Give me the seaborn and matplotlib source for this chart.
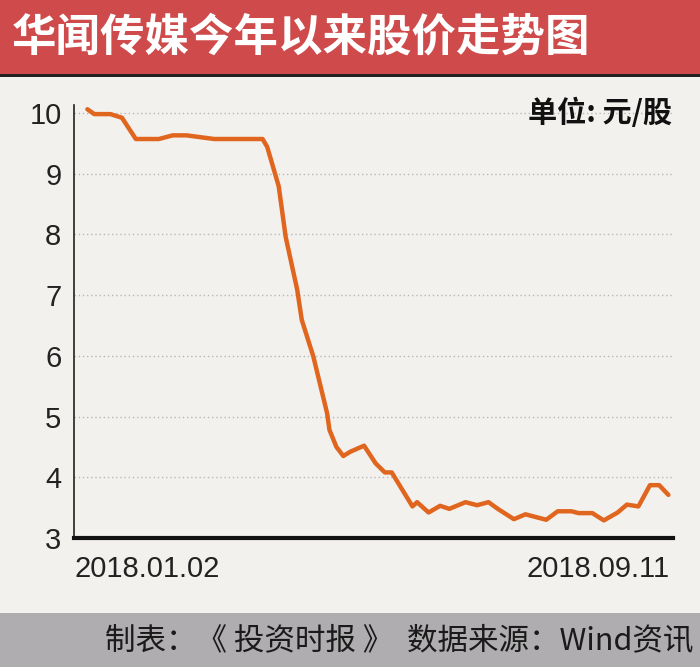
import pandas as pd
import matplotlib.pyplot as plt
import seaborn as sns
from matplotlib.patches import Rectangle

# 数据：华闻传媒 2018 年收盘价
dates = ["2018-01-02", "2018-01-05", "2018-01-12", "2018-01-17", "2018-01-23",
         "2018-02-02", "2018-02-08", "2018-02-14", "2018-02-26", "2018-03-19",
         "2018-03-21", "2018-03-26", "2018-03-29", "2018-04-03", "2018-04-05",
         "2018-04-10", "2018-04-16", "2018-04-17", "2018-04-20", "2018-04-23",
         "2018-04-26", "2018-05-02", "2018-05-07", "2018-05-11", "2018-05-14",
         "2018-05-23", "2018-05-25", "2018-05-30", "2018-06-04", "2018-06-08",
         "2018-06-15", "2018-06-20", "2018-06-25", "2018-06-29", "2018-07-06",
         "2018-07-11", "2018-07-20", "2018-07-25", "2018-07-31", "2018-08-03",
         "2018-08-09", "2018-08-14", "2018-08-20", "2018-08-24", "2018-08-29",
         "2018-09-03", "2018-09-07", "2018-09-11"]
prices = [10.06, 9.98, 9.98, 9.92, 9.57,
          9.57, 9.63, 9.63, 9.57, 9.57,
          9.44, 8.79, 7.96, 7.09, 6.59,
          5.99, 5.05, 4.78, 4.50, 4.35,
          4.42, 4.52, 4.23, 4.08, 4.08,
          3.52, 3.59, 3.42, 3.53, 3.48,
          3.59, 3.54, 3.59, 3.48, 3.31,
          3.39, 3.30, 3.44, 3.44, 3.41,
          3.41, 3.29, 3.42, 3.55, 3.52,
          3.87, 3.87, 3.71]
y_ticks = [3, 4, 5, 6, 7, 8, 9, 10]
x_labels = ["2018.01.02", "2018.09.11"]

df = pd.DataFrame({"date": pd.to_datetime(dates), "price": prices})

sns.set_style("white")
plt.rcParams["font.family"] = ["Noto Sans CJK SC", "DejaVu Sans"]
num_font = ["Liberation Sans", "DejaVu Sans"]

bg = "#f3f1ee"
fig = plt.figure(figsize=(7, 6.67), dpi=100, facecolor=bg)

# 标题栏
fig.add_artist(Rectangle((0, 1 - 74 / 667), 1, 74 / 667, transform=fig.transFigure,
                         facecolor="#cf4b4b", edgecolor="none"))
fig.add_artist(Rectangle((0, 1 - 77 / 667), 1, 3 / 667, transform=fig.transFigure,
                         facecolor="#222222", edgecolor="none"))
fig.text(12 / 700, 1 - 38 / 667, "华闻传媒今年以来股价走势图", color="white",
         fontsize=32, fontweight="bold", ha="left", va="center")

# 底栏
fig.add_artist(Rectangle((0, 0), 1, 54 / 667, transform=fig.transFigure,
                         facecolor="#afadaf", edgecolor="none"))
fig.text(693 / 700, 1 - 641 / 667, "制表：《 投资时报 》  数据来源：Wind资讯",
         color="#1a1a1a", fontsize=22, ha="right", va="center")

ax = fig.add_axes([74 / 700, 1 - 538 / 667, 599 / 700, 433 / 667])
ax.set_facecolor(bg)
sns.lineplot(data=df, x="date", y="price", ax=ax, color="#e0661f", linewidth=3.2)

start = df["date"].iloc[0]
end = df["date"].iloc[-1]
ax.set_xlim(start - pd.Timedelta(days=5.8), end + pd.Timedelta(days=2.0))
ax.set_ylim(3, 10.13)
ax.set_yticks(y_ticks)
ax.set_yticklabels([str(v) for v in y_ticks], fontsize=21, color="#222222",
                   family=num_font)
ax.set_xticks([])
ax.tick_params(axis="y", length=0, pad=9)
for v in y_ticks[1:]:
    ax.axhline(v, color="#b8b8b8", linewidth=1, linestyle=(0, (1, 2)), zorder=0)

for s in ["top", "right"]:
    ax.spines[s].set_visible(False)
ax.spines["left"].set_linewidth(1.2)
ax.spines["left"].set_color("#222222")
ax.spines["bottom"].set_linewidth(3)
ax.spines["bottom"].set_color("#111111")
ax.set_xlabel("")
ax.set_ylabel("")

fig.text(75 / 700, 1 - 569 / 667, x_labels[0], fontsize=21, color="#222222",
         ha="left", va="center", family=num_font)
fig.text(670 / 700, 1 - 569 / 667, x_labels[1], fontsize=21, color="#222222",
         ha="right", va="center", family=num_font)

fig.text(672 / 700, 1 - 113 / 667, "单位: 元/股", fontsize=21,
         fontweight="bold", color="#111111", ha="right", va="center")

fig.savefig("out.png", dpi=100, facecolor=bg)
